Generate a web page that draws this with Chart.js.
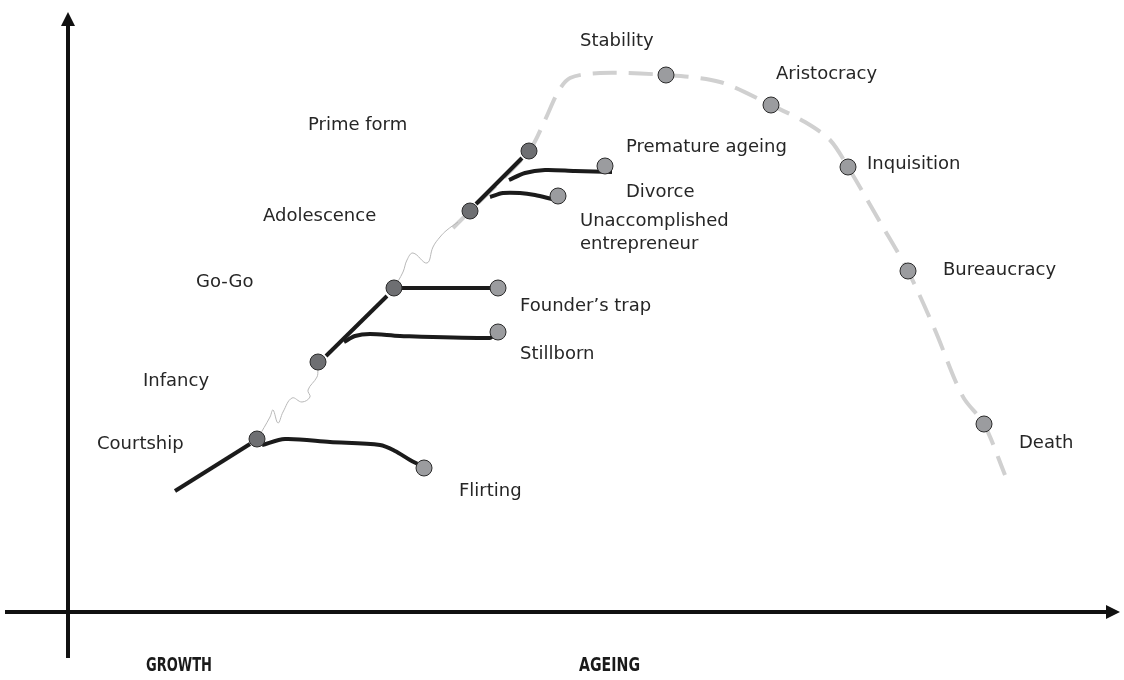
<!DOCTYPE html>
<html>
<head>
<meta charset="utf-8">
<script src="https://cdn.jsdelivr.net/npm/chart.js@4.4.1/dist/chart.umd.min.js"></script>
<style>
  body { margin: 0; background: #fff; }
  #wrap { width: 1124px; height: 680px; position: relative; }
</style>
</head>
<body>
<div id="wrap"><canvas id="lifecycle"></canvas></div>
<script>
// stages along the main curve (x = age, y = vitality)
const stageNames = ["Courtship", "Infancy", "Go-Go", "Adolescence", "Prime form",
                    "Stability", "Aristocracy", "Inquisition", "Bureaucracy", "Death"];
const stageX = [18.9, 25.0, 32.6, 40.2, 46.1, 59.8, 70.3, 78.0, 84.0, 91.6];
const stageY = [17.3, 25.0, 32.4, 40.1, 46.1, 53.7, 50.7, 44.5, 34.1, 18.8];

// traps (failure branches)
const trapNames = ["Flirting", "Stillborn", "Founder\u2019s trap", "Divorce", "Premature ageing"];
const trapX = [35.6, 43.0, 43.0, 49.0, 53.7];
const trapY = [14.4, 28.0, 32.4, 41.6, 44.6];

// branch paths
const startX = [10.7, 18.2];
const startY = [12.1, 16.8];
const flirtX = [19.4, 21.7, 26.2, 31.2, 32.7, 34.2, 35.2];
const flirtY = [16.7, 17.3, 17.0, 16.7, 16.1, 15.2, 14.7];
const infGoX = [25.8, 31.9];
const infGoY = [25.6, 31.6];
const stillX = [27.6, 28.7, 30.2, 33.2, 42.2, 42.6];
const stillY = [27.0, 27.6, 27.8, 27.6, 27.4, 27.7];
const founderX = [33.2, 42.6];
const founderY = [32.4, 32.4];
const adoPrimeX = [40.8, 45.4];
const adoPrimeY = [40.8, 45.4];
const prematureX = [44.1, 45.7, 47.7, 50.7, 54.4];
const prematureY = [43.2, 43.9, 44.2, 44.1, 44.0];
const divorceX = [42.2, 43.5, 45.2, 46.7, 48.4];
const divorceY = [41.5, 41.9, 41.9, 41.7, 41.3];

// dashed ageing curve
const curveX = [38.5, 40.2, 46.1, 47.7, 49.0, 50.2, 53.2, 59.8, 65.2, 70.3, 73.7, 76.2, 78.0, 81.2, 84.0, 86.7, 88.7, 89.7, 91.6, 93.7];
const curveY = [38.4, 40.1, 46.1, 49.2, 52.0, 53.4, 53.9, 53.7, 53.0, 50.7, 49.0, 47.2, 44.5, 39.0, 34.1, 28.2, 23.2, 21.2, 18.8, 13.7];

// thin squiggles between stages
const squig1X = [19.0, 20.2, 20.5, 21.0, 21.5, 22.4, 23.4, 24.2, 24.0, 24.9, 25.0];
const squig1Y = [17.4, 19.5, 20.2, 18.9, 20.0, 21.4, 21.0, 21.5, 22.2, 23.5, 24.2];
const squig2X = [32.6, 33.5, 33.9, 34.5, 35.9, 36.5, 37.2, 37.9, 39.0];
const squig2Y = [32.4, 34.0, 35.2, 35.9, 34.9, 36.5, 37.5, 38.2, 39.0];

const toPts = (xs, ys) => xs.map((x, i) => ({x: x, y: ys[i]}));

// label offsets in pixels from their point
const stageLabelOffset = [[-160, 5], [-175, 19], [-198, -6], [-207, 5], [-221, -26],
                          [-86, -34], [5, -31], [19, -3], [35, -1], [35, 19]];
const trapLabelOffset = [[35, 23], [22, 22], [22, 18], [68, -4], [21, -19]];

const labelPlugin = {
    id: 'labels',
    afterDatasetsDraw(chart) {
        const ctx = chart.ctx;
        const xs = chart.scales.x, ys = chart.scales.y;
        ctx.save();
        ctx.fillStyle = '#262626';
        ctx.font = '18px "DejaVu Sans", sans-serif';
        ctx.textBaseline = 'middle';
        ctx.textAlign = 'left';
        stageNames.forEach((name, i) => {
            const px = xs.getPixelForValue(stageX[i]) + stageLabelOffset[i][0];
            const py = ys.getPixelForValue(stageY[i]) + stageLabelOffset[i][1];
            ctx.fillText(name, px, py);
        });
        trapNames.forEach((name, i) => {
            const px = xs.getPixelForValue(trapX[i]) + trapLabelOffset[i][0];
            const py = ys.getPixelForValue(trapY[i]) + trapLabelOffset[i][1];
            ctx.fillText(name, px, py);
        });
        // the two-line label under Divorce
        const ux = xs.getPixelForValue(trapX[3]) + 22;
        const uy = ys.getPixelForValue(trapY[3]);
        ctx.fillText('Unaccomplished', ux, uy + 25);
        ctx.fillText('entrepreneur', ux, uy + 48);

        ctx.fillStyle = '#1a1a1a';
        ctx.font = 'bold 19px "Liberation Sans Narrow", "DejaVu Sans Condensed", sans-serif';
        ctx.fillText('GROWTH', 146, 666, 66);
        ctx.fillText('AGEING', 579, 666, 61);
        ctx.restore();
    }
};

const axesPlugin = {
    id: 'axes',
    beforeDatasetsDraw(chart) {
        const ctx = chart.ctx;
        const xs = chart.scales.x, ys = chart.scales.y;
        const ox = xs.getPixelForValue(0), oy = ys.getPixelForValue(0);
        const left = xs.getPixelForValue(-6.3), right = xs.getPixelForValue(105.2);
        const bottom = ys.getPixelForValue(-4.6), top = ys.getPixelForValue(60.0);
        ctx.save();
        ctx.strokeStyle = '#111';
        ctx.fillStyle = '#111';
        ctx.lineWidth = 4;
        ctx.beginPath();
        ctx.moveTo(left, oy); ctx.lineTo(right - 10, oy);
        ctx.moveTo(ox, bottom); ctx.lineTo(ox, top + 10);
        ctx.stroke();
        ctx.beginPath();
        ctx.moveTo(right, oy); ctx.lineTo(right - 14, oy - 7); ctx.lineTo(right - 14, oy + 7);
        ctx.closePath(); ctx.fill();
        ctx.beginPath();
        ctx.moveTo(ox, top); ctx.lineTo(ox - 7, top + 14); ctx.lineTo(ox + 7, top + 14);
        ctx.closePath(); ctx.fill();
        ctx.restore();
    }
};

const blackLine = (xs, ys, tension) => ({
    data: toPts(xs, ys), showLine: true, borderColor: '#1b1b1b', borderWidth: 4,
    pointRadius: 0, tension: tension, borderCapStyle: 'butt'
});

new Chart(document.getElementById('lifecycle'), {
    type: 'scatter',
    data: {
        datasets: [
            {
                data: toPts(stageX.slice(0, 5), stageY.slice(0, 5)),
                pointRadius: 8, pointBackgroundColor: '#6e6f72', pointBorderColor: '#2a2a2a', pointBorderWidth: 1
            },
            {
                data: toPts(stageX.slice(5), stageY.slice(5)).concat(toPts(trapX, trapY)),
                pointRadius: 8, pointBackgroundColor: '#9b9c9f', pointBorderColor: '#2a2a2a', pointBorderWidth: 1
            },
            blackLine(startX, startY, 0),
            blackLine(flirtX, flirtY, 0.3),
            blackLine(infGoX, infGoY, 0),
            blackLine(stillX, stillY, 0.3),
            blackLine(founderX, founderY, 0),
            blackLine(adoPrimeX, adoPrimeY, 0),
            blackLine(prematureX, prematureY, 0.3),
            blackLine(divorceX, divorceY, 0.3),
            {
                data: toPts(squig1X, squig1Y), showLine: true, borderColor: '#b8b8b8', borderWidth: 1,
                pointRadius: 0, tension: 0.4
            },
            {
                data: toPts(squig2X, squig2Y), showLine: true, borderColor: '#b8b8b8', borderWidth: 1,
                pointRadius: 0, tension: 0.4
            },
            {
                data: toPts(curveX, curveY), showLine: true, borderColor: '#d0d0d0', borderWidth: 4,
                borderDash: [24, 12], pointRadius: 0, tension: 0.3
            }
        ]
    },
    options: {
        responsive: true,
        maintainAspectRatio: false,
        animation: false,
        layout: {padding: 0, autoPadding: false},
        plugins: {legend: {display: false}, tooltip: {enabled: false}},
        scales: {
            x: {type: 'linear', min: -6.8, max: 105.6, display: false},
            y: {type: 'linear', min: -6.8, max: 61.2, display: false}
        }
    },
    plugins: [axesPlugin, labelPlugin]
});
</script>
</body>
</html>
